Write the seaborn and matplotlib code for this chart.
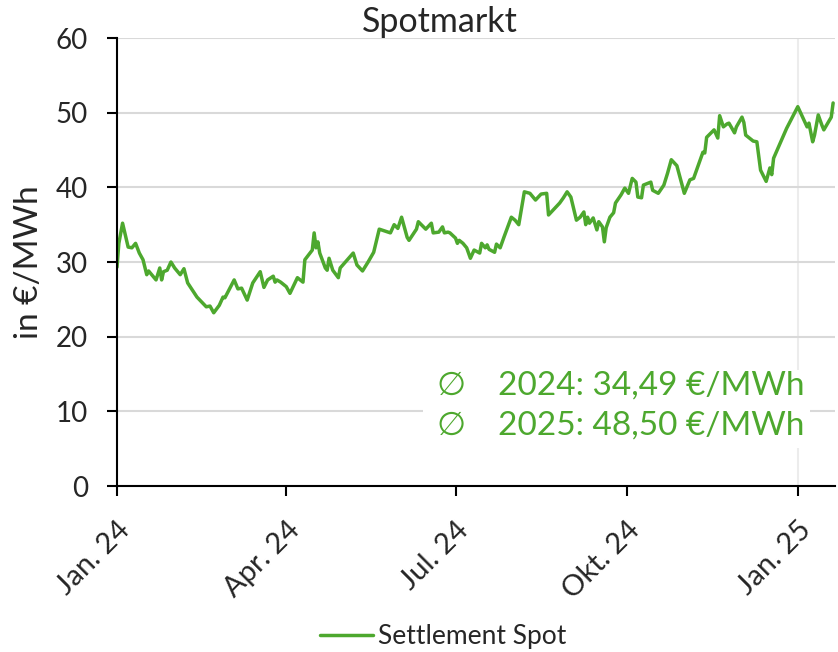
import numpy as np
import pandas as pd
import matplotlib
matplotlib.use("Agg")
import matplotlib.pyplot as plt
import seaborn as sns

# Werte (Settlement Spot, €/MWh)
dates = [
    "2024-01-01", "2024-01-02", "2024-01-04", "2024-01-07", "2024-01-09", "2024-01-11",
    "2024-01-13", "2024-01-15", "2024-01-17", "2024-01-18", "2024-01-22", "2024-01-24",
    "2024-01-25", "2024-01-26", "2024-01-28", "2024-01-30", "2024-02-01", "2024-02-04",
    "2024-02-06", "2024-02-08", "2024-02-13", "2024-02-18", "2024-02-20", "2024-02-22",
    "2024-02-25", "2024-02-27", "2024-02-28", "2024-03-04", "2024-03-06", "2024-03-08",
    "2024-03-11", "2024-03-14", "2024-03-18", "2024-03-20", "2024-03-22", "2024-03-25",
    "2024-03-26", "2024-03-27", "2024-03-29", "2024-04-01", "2024-04-03", "2024-04-07",
    "2024-04-10", "2024-04-11", "2024-04-15", "2024-04-16", "2024-04-17", "2024-04-18",
    "2024-04-19", "2024-04-22", "2024-04-23", "2024-04-24", "2024-04-26", "2024-04-29",
    "2024-04-30", "2024-05-07", "2024-05-09", "2024-05-12", "2024-05-15", "2024-05-18",
    "2024-05-21", "2024-05-27", "2024-05-29", "2024-05-31", "2024-06-02", "2024-06-05",
    "2024-06-06", "2024-06-10", "2024-06-11", "2024-06-15", "2024-06-18", "2024-06-19",
    "2024-06-22", "2024-06-24", "2024-06-25", "2024-06-27", "2024-06-28", "2024-07-01",
    "2024-07-02", "2024-07-03", "2024-07-05", "2024-07-07", "2024-07-09", "2024-07-11",
    "2024-07-14", "2024-07-15", "2024-07-17", "2024-07-18", "2024-07-19", "2024-07-22",
    "2024-07-23", "2024-07-25", "2024-07-27", "2024-07-31", "2024-08-02", "2024-08-04",
    "2024-08-07", "2024-08-10", "2024-08-13", "2024-08-16", "2024-08-19", "2024-08-20",
    "2024-08-26", "2024-08-28", "2024-08-30", "2024-09-01", "2024-09-04", "2024-09-06",
    "2024-09-08", "2024-09-09", "2024-09-10", "2024-09-11", "2024-09-13", "2024-09-15",
    "2024-09-16", "2024-09-18", "2024-09-19", "2024-09-20", "2024-09-22", "2024-09-24",
    "2024-09-25", "2024-09-28", "2024-09-30", "2024-10-02", "2024-10-04", "2024-10-06",
    "2024-10-07", "2024-10-09", "2024-10-10", "2024-10-14", "2024-10-15", "2024-10-18",
    "2024-10-21", "2024-10-23", "2024-10-25", "2024-10-28", "2024-11-01", "2024-11-04",
    "2024-11-06", "2024-11-11", "2024-11-12", "2024-11-13", "2024-11-17", "2024-11-19",
    "2024-11-20", "2024-11-22", "2024-11-24", "2024-11-25", "2024-11-28", "2024-11-29",
    "2024-12-02", "2024-12-03", "2024-12-04", "2024-12-08", "2024-12-10", "2024-12-12",
    "2024-12-15", "2024-12-17", "2024-12-18", "2024-12-19", "2024-12-26", "2025-01-01",
    "2025-01-06", "2025-01-07", "2025-01-09", "2025-01-10", "2025-01-12", "2025-01-14",
    "2025-01-15", "2025-01-19", "2025-01-20",
]
spot = [
    29.3, 32.5, 35.2, 32.0, 31.9, 32.5,
    31.2, 30.3, 28.3, 28.8, 27.6, 29.2,
    27.6, 28.7, 28.9, 30.0, 29.2, 28.3,
    29.1, 27.2, 25.3, 24.0, 24.1, 23.2,
    24.2, 25.3, 25.2, 27.6, 26.4, 26.5,
    24.9, 27.2, 28.7, 26.6, 27.6, 28.1,
    27.3, 27.6, 27.3, 26.7, 25.8, 27.9,
    27.3, 30.3, 31.6, 33.9, 31.9, 32.7,
    31.2, 29.2, 28.9, 30.5, 28.9, 27.9,
    29.2, 31.2, 29.6, 28.8, 30.0, 31.3,
    34.4, 33.9, 35.0, 34.5, 36.0, 33.3,
    32.9, 34.4, 35.4, 34.4, 35.2, 33.9,
    34.0, 34.7, 33.9, 34.0, 33.9, 33.2,
    32.5, 32.9, 32.5, 31.9, 30.5, 31.6,
    31.2, 32.5, 31.9, 32.3, 31.7, 31.3,
    32.4, 31.9, 33.3, 36.0, 35.6, 35.0,
    39.4, 39.2, 38.3, 39.1, 39.2, 36.3,
    37.9, 38.6, 39.4, 38.7, 35.6, 36.0,
    36.7, 35.0, 36.0, 35.2, 35.9, 34.3,
    35.4, 34.7, 32.7, 34.6, 36.0, 36.6,
    37.9, 39.0, 39.9, 39.2, 41.2, 40.7,
    38.7, 38.6, 40.3, 40.7, 39.6, 39.2,
    40.3, 41.9, 43.7, 42.9, 39.2, 41.0,
    41.2, 44.7, 44.6, 46.7, 47.7, 46.6,
    49.6, 48.1, 48.5, 48.6, 47.3, 48.1,
    49.4, 48.7, 47.0, 46.2, 46.1, 42.3,
    40.8, 42.6, 41.7, 43.9, 47.9, 50.8,
    48.1, 48.6, 46.1, 47.0, 49.7, 48.3,
    47.7, 49.4, 51.3,
]
tick_dates = ["2024-01-01", "2024-04-01", "2024-07-01", "2024-10-01", "2025-01-01"]
tick_labels = ["Jan. 24", "Apr. 24", "Jul. 24", "Okt. 24", "Jan. 25"]
avg_lines = ["2024: 34,49 €/MWh", "2025: 48,50 €/MWh"]

green = "#4DA82E"

df = pd.DataFrame({"Datum": pd.to_datetime(dates), "Wert": spot})

sns.set_style("white")
plt.rcParams["font.family"] = ["Lato", "DejaVu Sans"]

fig = plt.figure(figsize=(8.38, 6.52), dpi=100)
ax = fig.add_axes([0.1396, 0.2546, 0.8568, 0.6871])

sns.lineplot(data=df, x="Datum", y="Wert", ax=ax, color=green, linewidth=2.5,
             label="Settlement Spot")

ax.set_xlim(pd.Timestamp("2024-01-01"), pd.Timestamp("2025-01-21"))
ax.set_ylim(0, 60)
ax.set_yticks(range(0, 61, 10))
ax.yaxis.grid(True, color="#d9d9d9", linewidth=1.5)
ax.axvline(pd.Timestamp("2025-01-01"), color="#ececec", linewidth=1.5, zorder=0)
ax.set_axisbelow(True)

ax.set_xticks(pd.to_datetime(tick_dates))
ax.set_xticklabels(tick_labels, rotation=45, ha="right", rotation_mode="anchor")
ax.tick_params(axis="both", direction="out", length=7, width=1.5,
               color="black", bottom=True, left=True)
ax.tick_params(axis="y", labelsize=20, pad=14)
ax.tick_params(axis="x", labelsize=21, pad=15)

for side in ["top", "right"]:
    ax.spines[side].set_visible(False)
for side in ["left", "bottom"]:
    ax.spines[side].set_color("black")
    ax.spines[side].set_linewidth(1.5)

ax.set_xlabel("")
ax.set_ylabel("in €/MWh", fontsize=24, labelpad=8)
ax.set_title("Spotmarkt", fontsize=24.5, pad=4, x=0.45)

# Durchschnittswerte mit weissem Hintergrund
ax.add_patch(plt.Rectangle((0.426, 0.085), 0.539, 0.174, transform=ax.transAxes,
                           facecolor="white", edgecolor="none", zorder=1.5))
for i, txt in enumerate(avg_lines):
    yy = 0.225 - i * 0.09
    ax.text(0.445, yy, "∅", transform=ax.transAxes, fontsize=24, color=green,
            va="center", ha="left", family=["DejaVu Sans"], zorder=3)
    ax.text(0.53, yy, txt, transform=ax.transAxes, fontsize=24, color=green,
            va="center", ha="left", zorder=3)

ax.legend(loc="center", bbox_to_anchor=(0.454, -0.337), frameon=False,
          fontsize=19, handlelength=2.0, handletextpad=0.2)

fig.savefig("out.png", dpi=100)
